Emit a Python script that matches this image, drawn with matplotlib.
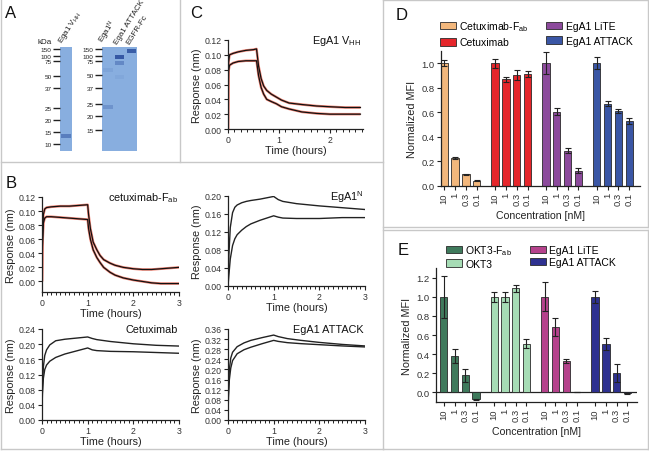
import matplotlib
matplotlib.use("Agg")
import matplotlib.pyplot as plt
from matplotlib.patches import Patch
from matplotlib.lines import Line2D
from matplotlib.ticker import MultipleLocator, StrMethodFormatter
import numpy as np

plt.rcParams['font.family'] = ['Liberation Sans', 'DejaVu Sans']
plt.rcParams['mathtext.fontset'] = 'custom'
plt.rcParams['mathtext.rm'] = 'Liberation Sans'
plt.rcParams['mathtext.it'] = 'Liberation Sans'
plt.rcParams['mathtext.default'] = 'regular'

W, H = 649, 452

# ---------------- Data ----------------
# Panel A gel (migration in gel units, top = 48, bottom = 152)
ladder_left_kda = [150, 100, 75, 50, 37, 25, 20, 15, 10]
ladder_left_pos = [50, 57, 62, 77, 89, 109, 121, 133, 145]
ladder_right_kda = [150, 100, 75, 50, 37, 25, 20, 15]
ladder_right_pos = [50, 57, 62, 76, 89, 105, 117, 131]
gel1_lanes = ["Ega1 V$_{HH}$"]
gel2_lanes = ["Ega1$^{N}$", "Ega1 ATTACK", "EGFR-Fc"]
# bands: lane index, position, intensity
gel1_band_lane = [0]
gel1_band_pos = [137]
gel1_band_int = [0.5]
gel2_band_lane = [0, 0, 1, 1, 1, 2]
gel2_band_pos = [108, 71, 58, 64, 78, 52]
gel2_band_int = [0.28, 0.10, 0.9, 0.4, 0.07, 0.85]

# Panel C: EgA1 VHH
c_t = [0, 0.01, 0.03, 0.1, 0.2, 0.35, 0.5, 0.56, 0.6, 0.65, 0.7, 0.76, 0.85, 0.95, 1.05, 1.2, 1.45, 1.74, 2.0, 2.3, 2.6]
c_hi = [0, 0.090, 0.100, 0.102, 0.104, 0.106, 0.107, 0.108, 0.085, 0.068, 0.058, 0.052, 0.047, 0.043, 0.039, 0.035, 0.033, 0.031, 0.030, 0.029, 0.029]
c_lo = [0, 0.078, 0.086, 0.089, 0.091, 0.092, 0.092, 0.092, 0.072, 0.056, 0.047, 0.040, 0.037, 0.034, 0.030, 0.027, 0.023, 0.021, 0.020, 0.020, 0.020]

# Panel B1: cetuximab-Fab
b1_t = [0, 0.01, 0.03, 0.06, 0.1, 0.2, 0.4, 0.6, 0.8, 1.0, 1.02, 1.06, 1.12, 1.2, 1.27, 1.35, 1.49, 1.6, 1.78, 2.0, 2.2, 2.4, 2.6, 2.8, 3.0]
b1_hi = [0, 0.060, 0.095, 0.103, 0.105, 0.106, 0.107, 0.107, 0.108, 0.109, 0.095, 0.075, 0.056, 0.045, 0.037, 0.031, 0.026, 0.023, 0.020, 0.018, 0.017, 0.017, 0.018, 0.019, 0.020]
b1_lo = [0, 0.050, 0.083, 0.090, 0.092, 0.092, 0.091, 0.090, 0.089, 0.088, 0.075, 0.060, 0.045, 0.034, 0.027, 0.020, 0.013, 0.009, 0.005, 0.002, 0.000, -0.002, -0.003, -0.003, -0.003]

# Panel B2: EgA1 N
b2_t = [0, 0.02, 0.05, 0.1, 0.15, 0.2, 0.3, 0.4, 0.5, 0.7, 0.85, 1.0, 1.1, 1.2, 1.5, 2.0, 2.5, 3.0]
b2_hi = [0, 0.070, 0.130, 0.163, 0.175, 0.180, 0.185, 0.188, 0.190, 0.193, 0.196, 0.199, 0.192, 0.188, 0.183, 0.178, 0.174, 0.170]
b2_lo = [0, 0.025, 0.060, 0.090, 0.105, 0.114, 0.124, 0.132, 0.138, 0.146, 0.151, 0.156, 0.153, 0.151, 0.150, 0.150, 0.152, 0.152]

# Panel B3: Cetuximab
b3_t = [0, 0.01, 0.03, 0.06, 0.1, 0.17, 0.3, 0.5, 0.75, 1.0, 1.1, 1.2, 1.5, 2.0, 2.5, 3.0]
b3_hi = [0.03, 0.09, 0.14, 0.17, 0.185, 0.198, 0.209, 0.213, 0.216, 0.219, 0.215, 0.212, 0.207, 0.201, 0.197, 0.195]
b3_lo = [0.03, 0.07, 0.11, 0.133, 0.145, 0.155, 0.165, 0.174, 0.182, 0.190, 0.185, 0.183, 0.181, 0.180, 0.178, 0.176]

# Panel B4: EgA1 ATTACK
b4_t = [0, 0.01, 0.03, 0.06, 0.1, 0.2, 0.35, 0.5, 0.75, 1.0, 1.1, 1.3, 1.6, 2.0, 2.5, 3.0]
b4_hi = [0, 0.12, 0.20, 0.245, 0.268, 0.290, 0.305, 0.315, 0.326, 0.336, 0.330, 0.322, 0.315, 0.307, 0.299, 0.293]
b4_lo = [0, 0.09, 0.16, 0.205, 0.235, 0.262, 0.278, 0.288, 0.302, 0.315, 0.311, 0.306, 0.302, 0.298, 0.293, 0.289]

# Panels D/E
conc_labels = ["10", "1", "0.3", "0.1"]
d_names = ["Cetuximab-F$_{ab}$", "Cetuximab", "EgA1 LiTE", "EgA1 ATTACK"]
d_colors = ["#F2B77C", "#E5262B", "#8C4A9C", "#3A56A5"]
d_vals = [[1.0, 0.232, 0.095, 0.043],
          [1.0, 0.870, 0.905, 0.914],
          [1.0, 0.605, 0.289, 0.124],
          [1.0, 0.670, 0.611, 0.532]]
d_errs = [[0.024, 0.008, 0.004, 0.004],
          [0.035, 0.022, 0.038, 0.024],
          [0.090, 0.027, 0.022, 0.019],
          [0.049, 0.022, 0.016, 0.024]]
e_names = ["OKT3-F$_{ab}$", "OKT3", "EgA1 LiTE", "EgA1 ATTACK"]
e_colors = ["#3F7A5C", "#A6DCB5", "#B5428C", "#2E3190"]
e_vals = [[1.0, 0.382, 0.177, -0.073],
          [1.0, 1.0, 1.087, 0.51],
          [1.0, 0.68, 0.33, 0.005],
          [1.0, 0.51, 0.198, -0.01]]
e_errs = [[0.22, 0.073, 0.063, 0.008],
          [0.05, 0.05, 0.035, 0.049],
          [0.153, 0.094, 0.024, 0.003],
          [0.063, 0.063, 0.094, 0.004]]

# ---------------- Figure ----------------
fig = plt.figure(figsize=(W / 100, H / 100), dpi=100)
fig.patch.set_facecolor('white')


def rect(x0, y0, x1, y1):
    return [x0 / W, 1 - y1 / H, (x1 - x0) / W, (y1 - y0) / H]


def fline(xs, ys, color='#C8C8C8', lw=1.0):
    fig.add_artist(Line2D([x / W for x in xs], [1 - y / H for y in ys],
                          transform=fig.transFigure, color=color, lw=lw))


# panel frames
fline([1, 1], [0, 450])
fline([1, 383], [450, 450])
fline([180, 180], [0, 163])
fline([1, 383], [163, 163])
fline([383, 383], [0, 450])
fline([383, 648], [1, 1])
fline([648, 648], [1, 228])
fline([383, 648], [228, 228])
fline([383, 648], [231, 231])
fline([648, 648], [231, 450])
fline([383, 648], [450, 450])

# panel letters
for lab, (x, y) in zip("ABCDE", [(11, 13), (11, 183), (196, 13), (402, 15), (403, 251)]):
    fig.text(x / W, 1 - y / H, lab, fontsize=12, ha='center', va='center', color='#111111')

TICKC = '#333333'


def style_axes(ax, fs=6.3):
    for s in ['top', 'right']:
        ax.spines[s].set_visible(False)
    for s in ['left', 'bottom']:
        ax.spines[s].set_linewidth(0.9)
        ax.spines[s].set_color('#222222')
    ax.tick_params(direction='out', length=3, width=0.8, labelsize=fs,
                   colors='#222222', labelcolor=TICKC, pad=1.5)
    ax.set_facecolor('none')


# ---------------- Panel A (gels) ----------------
gel_bg = '#88AEDF'
band_c = '#2C4F9E'


def draw_gel(r, lanes, band_lane, band_pos, band_int, lad_kda, lad_pos):
    ax = fig.add_axes(r)
    n = len(lanes)
    ax.set_xlim(0, n)
    ax.set_ylim(152, 48)
    ax.set_facecolor(gel_bg)
    for s in ax.spines.values():
        s.set_visible(False)
    for ln, p, it in zip(band_lane, band_pos, band_int):
        ax.bar(ln + 0.5, 4, bottom=p - 2, width=0.8, color=band_c, alpha=it, linewidth=0)
    ax.set_xticks([])
    ax.set_yticks(lad_pos)
    ax.set_yticklabels([str(k) for k in lad_kda], fontsize=4.6, color='#222222')
    ax.tick_params(axis='y', direction='out', length=5, width=1.0, pad=1, colors='#222222')
    for i, name in enumerate(lanes):
        ax.text(i + 0.45, 46, name, rotation=58, rotation_mode='anchor',
                ha='left', va='bottom', fontsize=5.8, transform=ax.transData, clip_on=False,
                color='#222222')
    return ax


draw_gel(rect(60, 48, 72, 152), gel1_lanes, gel1_band_lane, gel1_band_pos, gel1_band_int,
         ladder_left_kda, ladder_left_pos)
draw_gel(rect(102, 48, 137, 152), gel2_lanes, gel2_band_lane, gel2_band_pos, gel2_band_int,
         ladder_right_kda, ladder_right_pos)
fig.text(45 / W, 1 - 42 / H, "kDa", fontsize=5.8, ha='center', va='center', color='#222222')


# ---------------- Kinetic panels ----------------
def kin_panel(r, t, hi, lo, ylim, ystep, xmax, title, fit=False, fs_title=7.8):
    ax = fig.add_axes(r)
    if fit:
        ax.plot(t, hi, color='#EE8070', lw=1.8, solid_capstyle='butt')
        ax.plot(t, lo, color='#EE8070', lw=1.8, solid_capstyle='butt')
        ax.plot(t, hi, color='#111111', lw=0.9)
        ax.plot(t, lo, color='#111111', lw=0.9)
    else:
        ax.plot(t, hi, color='#222222', lw=1.0)
        ax.plot(t, lo, color='#222222', lw=1.0)
    ax.set_xlim(0, xmax)
    ax.set_ylim(*ylim)
    ax.set_yticks(np.arange(0, ylim[1] + 1e-9, ystep))
    ax.yaxis.set_major_formatter(StrMethodFormatter('{x:.2f}'))
    ax.set_xticks([0, 1, 2, 3] if xmax >= 3 else [0, 1, 2])
    ax.xaxis.set_minor_locator(MultipleLocator(0.1 if xmax >= 3 else 0.125))
    style_axes(ax)
    ax.tick_params(axis='x', which='minor', length=2, width=0.7, colors='#222222')
    ax.set_xlabel("Time (hours)", fontsize=7.8, labelpad=0.5, color='#222222')
    ax.set_ylabel("Response (nm)", fontsize=7.8, labelpad=2, color='#222222')
    ax.text(0.99, 1.0, title, transform=ax.transAxes, ha='right', va='center', fontsize=fs_title,
            color='#111111')
    return ax


kin_panel(rect(228, 41, 363, 130), c_t, c_hi, c_lo, (0, 0.12), 0.02, 2.65, "EgA1 V$_{HH}$", fit=True)
kin_panel(rect(42, 198, 179, 293), b1_t, b1_hi, b1_lo, (-0.015, 0.12), 0.02, 3.0, "cetuximab-F$_{ab}$", fit=True)
kin_panel(rect(228, 197, 365, 287), b2_t, b2_hi, b2_lo, (0, 0.20), 0.04, 3.0, "EgA1$^{N}$")
kin_panel(rect(42, 330, 179, 421), b3_t, b3_hi, b3_lo, (0, 0.24), 0.04, 3.0, "Cetuximab")
kin_panel(rect(228, 330, 365, 421), b4_t, b4_hi, b4_lo, (0, 0.36), 0.04, 3.0, "EgA1 ATTACK")


# ---------------- Bar panels ----------------
def bar_panel(r, names, colors, vals, errs, ylim, xlim, yticks, leg_anchor, labelspacing,
              colspacing, zero_line=False):
    ax = fig.add_axes(r)
    pos_all, lab_all = [], []
    handles = []
    for g, (nm, col, v, e) in enumerate(zip(names, colors, vals, errs)):
        pos = [g * 4.7 + i for i in range(len(v))]
        ax.bar(pos, v, width=0.68, color=col, edgecolor='#2A2A2A', linewidth=0.6, zorder=2)
        ax.errorbar(pos, v, yerr=e, fmt='none', ecolor='#222222', elinewidth=0.8,
                    capsize=2.2, capthick=0.8, zorder=3)
        pos_all += pos
        lab_all += conc_labels
        handles.append(Patch(facecolor=col, edgecolor='#2A2A2A', linewidth=0.6, label=nm))
    ax.set_xlim(*xlim)
    ax.set_ylim(*ylim)
    ax.set_yticks(yticks)
    ax.yaxis.set_major_formatter(StrMethodFormatter('{x:.1f}'))
    ax.set_xticks(pos_all)
    ax.set_xticklabels(lab_all, rotation=90, fontsize=6.5)
    style_axes(ax, fs=6.8)
    if zero_line:
        ax.axhline(0, color='#222222', lw=0.9, zorder=1)
    ax.set_xlabel("Concentration [nM]", fontsize=7.6, labelpad=3, color='#222222')
    ax.set_ylabel("Normalized MFI", fontsize=7.8, labelpad=3, color='#222222')
    fig.legend(handles=handles, ncol=2, loc='upper left',
               bbox_to_anchor=(leg_anchor[0] / W, 1 - leg_anchor[1] / H),
               frameon=False, fontsize=7.5, handlelength=1.55, handleheight=0.75,
               handletextpad=0.3, columnspacing=colspacing, labelspacing=labelspacing,
               borderaxespad=0, borderpad=0)
    return ax


bar_panel(rect(441, 52, 640, 187), d_names, d_colors, d_vals, d_errs,
          (0, 1.1), (-0.3, 18.1), np.arange(0, 1.01, 0.2), (440, 20), 0.45, 1.7)
bar_panel(rect(436, 269, 637, 403), e_names, e_colors, e_vals, e_errs,
          (-0.1, 1.3), (-0.73, 18.0), np.arange(0, 1.21, 0.2), (446, 244), 0.2, 1.7,
          zero_line=True)

fig.savefig("out.png", dpi=100)
